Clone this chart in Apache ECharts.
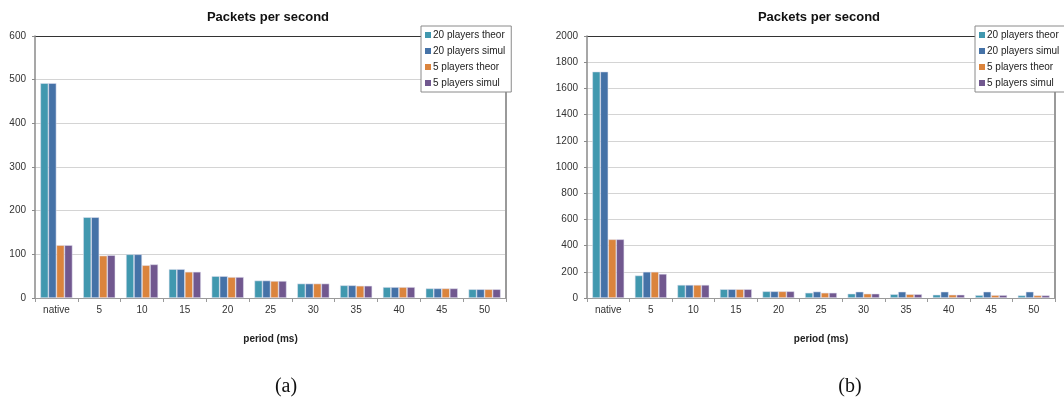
<!DOCTYPE html>
<html>
<head>
<meta charset="utf-8">
<script src="https://cdn.jsdelivr.net/npm/echarts@6/dist/echarts.min.js"></script>
<style>
  html, body { margin: 0; padding: 0; background: #fff; }
  #chart { width: 1064px; height: 400px; }
</style>
</head>
<body>
<div id="chart"></div>
<script>
// Sending period categories (x axis)
const categories = ['native', '5', '10', '15', '20', '25', '30', '35', '40', '45', '50'];
const seriesNames = ['20 players theor', '20 players simul', '5 players theor', '5 players simul'];

// Panel (a): packets per second
const a20Theor = [492, 185, 100, 66, 50, 40, 33, 29, 25, 22, 20];
const a20Simul = [492, 185, 100, 66, 50, 40, 33, 29, 25, 22, 20];
const a5Theor  = [121, 97, 75, 60, 48, 39, 33, 28, 25, 22, 20];
const a5Simul  = [121, 98, 77, 60, 48, 39, 33, 28, 25, 22, 20];

// Panel (b): packets per second
const b20Theor = [1728, 172, 100, 67, 51, 40, 33, 29, 25, 22, 20];
const b20Simul = [1728, 200, 100, 67, 51, 49, 48, 48, 48, 48, 48];
const b5Theor  = [448, 200, 100, 67, 51, 40, 33, 29, 25, 22, 20];
const b5Simul  = [448, 184, 100, 67, 51, 40, 33, 29, 25, 22, 20];

// Y axis ranges
const aMax = 600, aStep = 100;
const bMax = 2000, bStep = 200;

const colors = ['#4198AF', '#4572A7', '#DB843D', '#71588F'];
const FONT = 'Liberation Sans, Arial, sans-serif';

function splitColors(max, step) {
  const n = Math.round(max / step) + 1;
  const arr = [];
  for (let i = 0; i < n; i++) arr.push(i === n - 1 ? '#333333' : '#d4d4d4');
  return arr;
}

function xAxisFor(gi) {
  return {
    type: 'category', gridIndex: gi, data: categories,
    name: 'period (ms)', nameLocation: 'middle', nameGap: 36,
    nameTextStyle: { fontFamily: FONT, fontSize: 10, fontWeight: 'bold', color: '#222' },
    axisLine: { lineStyle: { color: '#9a9a9a', width: 1 } },
    axisTick: { show: true, length: 4, lineStyle: { color: '#9a9a9a' } },
    axisLabel: { fontFamily: FONT, fontSize: 10, color: '#333', margin: 7 }
  };
}

function yAxisFor(gi, max, step) {
  return {
    type: 'value', gridIndex: gi, min: 0, max: max, interval: step,
    axisLine: { show: true, lineStyle: { color: '#8a8a8a', width: 1.5 } },
    axisTick: { show: true, length: 3, lineStyle: { color: '#8a8a8a' } },
    axisLabel: { fontFamily: FONT, fontSize: 10, color: '#333', margin: 9,
                 formatter: function (v) { return String(v); } },
    splitLine: { show: true, lineStyle: { color: splitColors(max, step), width: 1 } }
  };
}

function rightBorderAxis(gi, max, step) {
  return {
    type: 'value', gridIndex: gi, position: 'right', min: 0, max: max, interval: step,
    axisLine: { show: true, lineStyle: { color: '#9a9a9a', width: 2 } },
    axisTick: { show: false }, axisLabel: { show: false }, splitLine: { show: false }
  };
}

function barSeries(name, data, ci, xi, yi) {
  return {
    name: name, type: 'bar', xAxisIndex: xi, yAxisIndex: yi, data: data,
    barGap: '0%', barCategoryGap: '25%',
    itemStyle: { color: colors[ci], borderColor: 'rgba(225,225,240,0.9)', borderWidth: 0.6 },
    emphasis: { disabled: true }
  };
}

function legendFor(left) {
  return {
    orient: 'vertical', left: left, top: 26,
    data: seriesNames,
    backgroundColor: '#ffffff', borderColor: '#8a8a8a', borderWidth: 1,
    padding: [3, 6, 3, 4],
    itemWidth: 6, itemHeight: 6, itemGap: 4,
    icon: 'rect',
    itemStyle: { borderWidth: 0 },
    textStyle: { fontFamily: FONT, fontSize: 10, color: '#222', lineHeight: 12, padding: [0, 0, 0, -3] },
    selectedMode: false
  };
}

const chart = echarts.init(document.getElementById('chart'), null, { renderer: 'canvas' });
chart.setOption({
  backgroundColor: '#ffffff',
  animation: false,
  color: colors,
  title: [
    { text: 'Packets per second', left: 263, top: 6, textAlign: 'center',
      textStyle: { fontFamily: FONT, fontSize: 13, fontWeight: 'bold', color: '#111' } },
    { text: 'Packets per second', left: 814, top: 6, textAlign: 'center',
      textStyle: { fontFamily: FONT, fontSize: 13, fontWeight: 'bold', color: '#111' } },
    { text: '(a)', left: 281, top: 372, textAlign: 'center',
      textStyle: { fontFamily: 'Liberation Serif, Times New Roman, serif', fontSize: 20, fontWeight: 'normal', color: '#111' } },
    { text: '(b)', left: 845, top: 372, textAlign: 'center',
      textStyle: { fontFamily: 'Liberation Serif, Times New Roman, serif', fontSize: 20, fontWeight: 'normal', color: '#111' } }
  ],
  legend: [legendFor(421), legendFor(975)],
  grid: [
    { left: 35, top: 36, width: 471, height: 262 },
    { left: 587, top: 36, width: 468, height: 262 }
  ],
  xAxis: [xAxisFor(0), xAxisFor(1)],
  yAxis: [
    yAxisFor(0, aMax, aStep), rightBorderAxis(0, aMax, aStep),
    yAxisFor(1, bMax, bStep), rightBorderAxis(1, bMax, bStep)
  ],
  series: [
    barSeries(seriesNames[0], a20Theor, 0, 0, 0),
    barSeries(seriesNames[1], a20Simul, 1, 0, 0),
    barSeries(seriesNames[2], a5Theor, 2, 0, 0),
    barSeries(seriesNames[3], a5Simul, 3, 0, 0),
    barSeries(seriesNames[0], b20Theor, 0, 1, 2),
    barSeries(seriesNames[1], b20Simul, 1, 1, 2),
    barSeries(seriesNames[2], b5Theor, 2, 1, 2),
    barSeries(seriesNames[3], b5Simul, 3, 1, 2)
  ]
});
</script>
</body>
</html>
